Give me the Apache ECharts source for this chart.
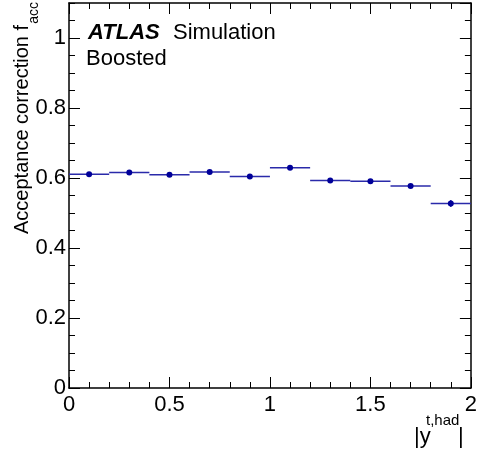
<!DOCTYPE html>
<html>
<head>
<meta charset="utf-8">
<script src="https://cdn.jsdelivr.net/npm/echarts@6/dist/echarts.min.js"></script>
<style>
  html, body { margin: 0; padding: 0; background: #fff; }
  #chart { width: 480px; height: 456px; }
</style>
</head>
<body>
<div id="chart"></div>
<script>
// bins in |y^{t,had}|
var binEdges = [0, 0.2, 0.4, 0.6, 0.8, 1.0, 1.2, 1.4, 1.6, 1.8, 2.0]
// acceptance correction per bin and its stat. error
var accValues = [0.611, 0.616, 0.609, 0.617, 0.604, 0.629, 0.593, 0.591, 0.577, 0.527]
var accErrors = [0.003, 0.003, 0.003, 0.003, 0.003, 0.003, 0.003, 0.003, 0.005, 0.010]
var xTicks = [0, 0.5, 1, 1.5, 2]
var yTicks = [0, 0.2, 0.4, 0.6, 0.8, 1]

var font = 'Liberation Sans, Arial, Helvetica, sans-serif'
var mark = '#000099'

var points = accValues.map(function (v, i) {
  return [binEdges[i], binEdges[i + 1], v, accErrors[i]]
})

var chart = echarts.init(document.getElementById('chart'))

function frameX (pos, labels) {
  return {
    type: 'value',
    position: pos,
    min: xTicks[0],
    max: xTicks[xTicks.length - 1],
    interval: 0.5,
    axisLine: { show: true, onZero: false, lineStyle: { color: '#000', width: 1.5 } },
    axisTick: { show: true, inside: true, length: 11, lineStyle: { color: '#000', width: 1 } },
    minorTick: { show: true, splitNumber: 5, length: 6, lineStyle: { color: '#000', width: 1 } },
    splitLine: { show: false },
    axisLabel: {
      show: labels,
      color: '#000',
      fontFamily: font,
      fontSize: 22,
      margin: 6,
      formatter: function (v) { return xTicks.indexOf(v) >= 0 ? String(v) : '' }
    }
  }
}

function frameY (pos, major) {
  return {
    type: 'value',
    position: pos,
    min: 0,
    max: 1.1,
    interval: major ? 0.2 : 0.05,
    axisLine: { show: major, onZero: false, lineStyle: { color: '#000', width: 1.5 } },
    axisTick: { show: true, inside: true, length: major ? 11 : 6, lineStyle: { color: '#000', width: 1 } },
    splitLine: { show: false },
    axisLabel: {
      show: major && pos === 'left',
      color: '#000',
      fontFamily: font,
      fontSize: 22,
      margin: 3,
      showMaxLabel: false,
      formatter: function (v) {
        var r = Math.round(v * 10) / 10
        return yTicks.indexOf(r) >= 0 && Math.abs(r - v) < 1e-6 ? String(r) : ''
      }
    }
  }
}

chart.setOption({
  animation: false,
  grid: { left: 69, right: 9, top: 3, bottom: 68 },
  xAxis: [frameX('bottom', true), frameX('top', false)],
  yAxis: [frameY('left', true), frameY('left', false), frameY('right', true), frameY('right', false)],
  series: [{
    type: 'custom',
    xAxisIndex: 0,
    yAxisIndex: 0,
    data: points,
    encode: { x: [0, 1], y: 2 },
    renderItem: function (params, api) {
      var lo = api.value(0), hi = api.value(1), y = api.value(2), e = api.value(3)
      var mid = (lo + hi) / 2
      var a = api.coord([lo, y])
      var b = api.coord([hi, y])
      var c = api.coord([mid, y])
      var up = api.coord([mid, y + e])
      var dn = api.coord([mid, y - e])
      return {
        type: 'group',
        children: [
          { type: 'line', shape: { x1: a[0], y1: a[1], x2: b[0], y2: b[1] }, style: { stroke: '#2a2aaa', lineWidth: 1.5 } },
          { type: 'line', shape: { x1: up[0], y1: up[1], x2: dn[0], y2: dn[1] }, style: { stroke: '#2a2aaa', lineWidth: 1.5 } },
          { type: 'circle', shape: { cx: c[0], cy: c[1], r: 3 }, style: { fill: mark } }
        ]
      }
    }
  }],
  graphic: [
    { type: 'text', x: 88, y: 33, style: { text: 'ATLAS', font: 'italic bold 22px ' + font, fill: '#000', verticalAlign: 'middle' } },
    { type: 'text', x: 173, y: 33, style: { text: 'Simulation', font: '22px ' + font, fill: '#000', verticalAlign: 'middle' } },
    { type: 'text', x: 86, y: 59, style: { text: 'Boosted', font: '22px ' + font, fill: '#000', verticalAlign: 'middle' } },
    // y title, rotated
    { type: 'text', x: 22, y: 25, rotation: Math.PI / 2, style: { text: 'Acceptance correction f', font: '20px ' + font, fill: '#000', align: 'right', verticalAlign: 'middle' } },
    { type: 'text', x: 34, y: 2, rotation: Math.PI / 2, style: { text: 'acc', font: '14px ' + font, fill: '#000', align: 'right', verticalAlign: 'middle' } },
    // x title
    { type: 'text', x: 414, y: 437, style: { text: '|y', font: '22px ' + font, fill: '#000', verticalAlign: 'middle' } },
    { type: 'text', x: 426, y: 421, style: { text: 't,had', font: '15px ' + font, fill: '#000', verticalAlign: 'middle' } },
    { type: 'text', x: 458, y: 437, style: { text: '|', font: '22px ' + font, fill: '#000', verticalAlign: 'middle' } }
  ]
})
</script>
</body>
</html>
